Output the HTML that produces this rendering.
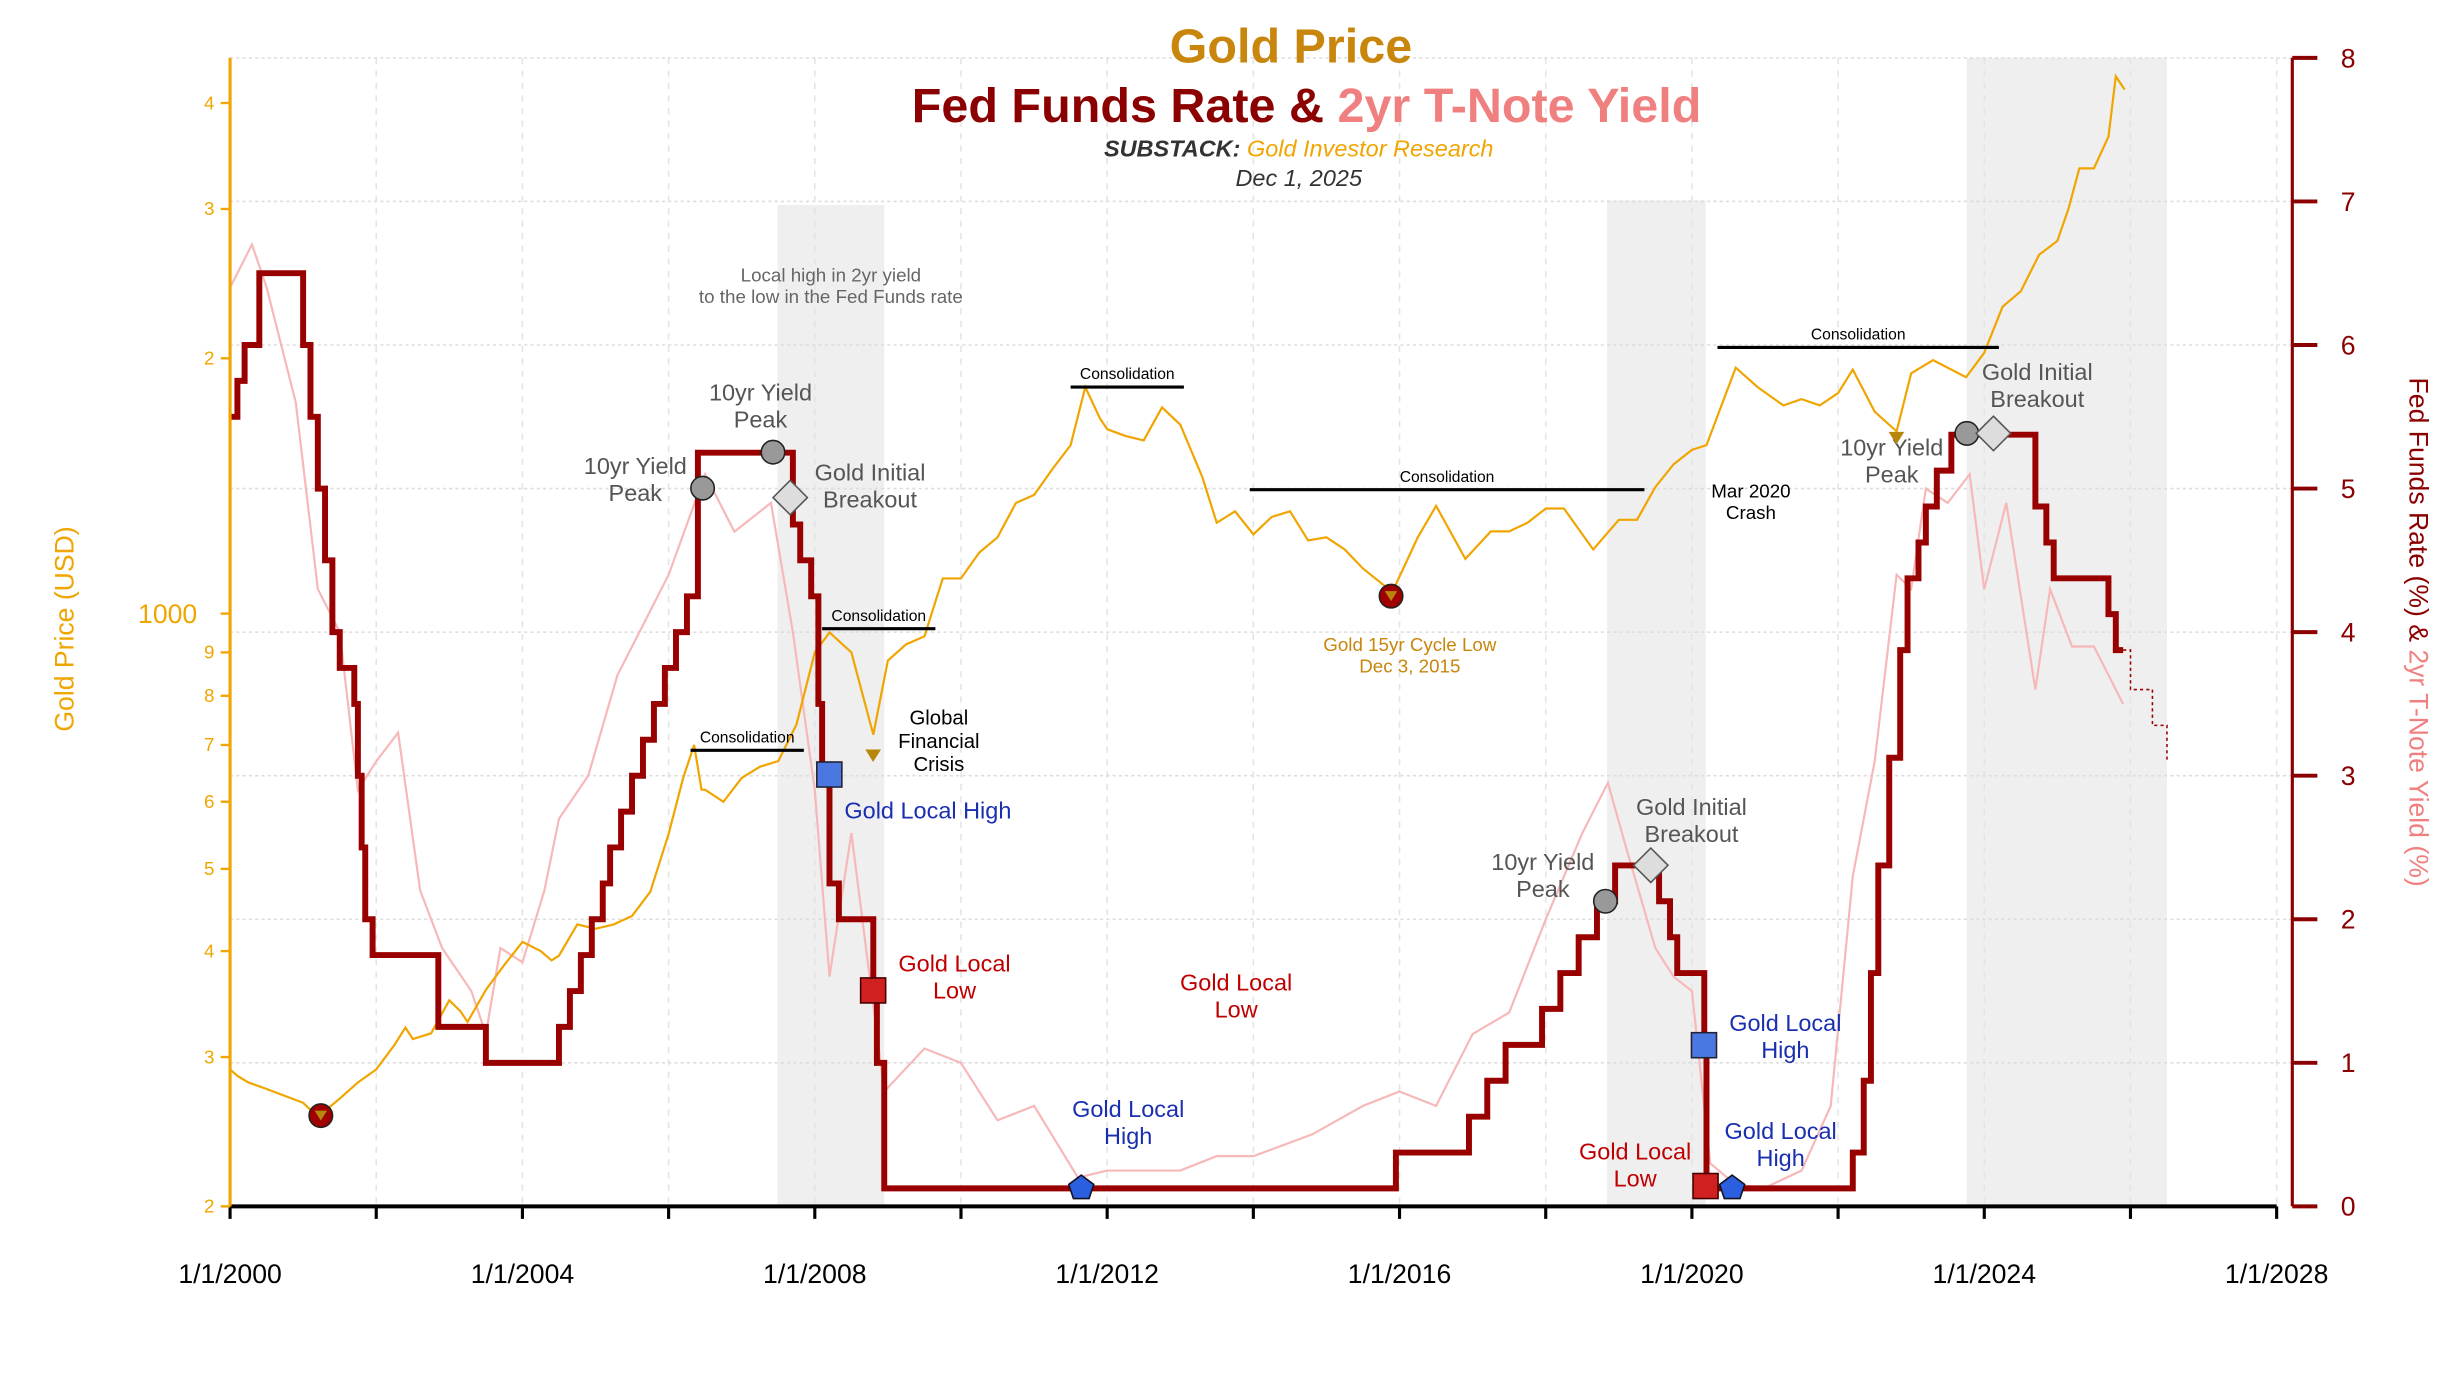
<!DOCTYPE html>
<html><head><meta charset="utf-8">
<style>
html,body{margin:0;padding:0;background:#fff;}
svg{display:block;font-family:"Liberation Sans",sans-serif;}
</style></head>
<body>
<svg id="chart" width="2441" height="1391" viewBox="0 0 1560 889" xmlns="http://www.w3.org/2000/svg">
<g id="bands"></g>
<g id="grid"></g>
<g id="series"></g>
<g id="axes"></g>
<g id="notes"></g>
<g>
<text x="825" y="40" text-anchor="middle" font-size="31" font-weight="bold" fill="#c8860d">Gold Price</text>
<text x="835" y="78" text-anchor="middle" font-size="31" font-weight="bold"><tspan fill="#8b0000">Fed Funds Rate &amp; </tspan><tspan fill="#f08080">2yr T-Note Yield</tspan></text>
<text x="830" y="100" text-anchor="middle" font-size="15" font-style="italic"><tspan fill="#333" font-weight="bold">SUBSTACK:</tspan><tspan fill="#f0a500"> Gold Investor Research</tspan></text>
<text x="830" y="119" text-anchor="middle" font-size="15" font-style="italic" fill="#333">Dec 1, 2025</text>
</g>
</svg>
<script>
// ---- data ----
const fedDates = [2000.0,2000.1,2000.2,2000.4,2001.0,2001.1,2001.2,2001.3,2001.4,2001.5,2001.7,2001.75,2001.8,2001.85,2001.95,2002.85,2003.5,2004.5,2004.65,2004.8,2004.95,2005.1,2005.2,2005.35,2005.5,2005.65,2005.8,2005.95,2006.1,2006.25,2006.4,2007.7,2007.8,2007.95,2008.05,2008.1,2008.2,2008.33,2008.8,2008.85,2008.95,2015.95,2016.95,2017.2,2017.45,2017.95,2018.2,2018.45,2018.7,2018.95,2019.55,2019.7,2019.8,2020.17,2020.2,2022.2,2022.35,2022.45,2022.55,2022.7,2022.85,2022.95,2023.1,2023.2,2023.35,2023.55,2024.7,2024.85,2024.95,2025.7,2025.8,2025.9];
const fedRates = [5.5,5.75,6.0,6.5,6.0,5.5,5.0,4.5,4.0,3.75,3.5,3.0,2.5,2.0,1.75,1.25,1.0,1.25,1.5,1.75,2.0,2.25,2.5,2.75,3.0,3.25,3.5,3.75,4.0,4.25,5.25,4.75,4.5,4.25,3.5,3.0,2.25,2.0,1.5,1.0,0.125,0.375,0.625,0.875,1.125,1.375,1.625,1.875,2.125,2.375,2.125,1.875,1.625,1.125,0.125,0.375,0.875,1.625,2.375,3.125,3.875,4.375,4.625,4.875,5.125,5.375,4.875,4.625,4.375,4.125,3.875,3.875];
const fedProjDates = [2025.9,2026.0,2026.3,2026.5];
const fedProjRates = [3.875,3.6,3.35,3.1];
const goldDates = [2000.0,2000.1,2000.25,2000.5,2000.75,2001.0,2001.2,2001.5,2001.75,2002.0,2002.25,2002.4,2002.5,2002.75,2003.0,2003.15,2003.25,2003.5,2003.75,2004.0,2004.25,2004.4,2004.5,2004.75,2005.0,2005.25,2005.5,2005.75,2006.0,2006.2,2006.35,2006.45,2006.5,2006.75,2007.0,2007.25,2007.5,2007.75,2008.0,2008.2,2008.5,2008.8,2009.0,2009.25,2009.5,2009.75,2010.0,2010.25,2010.5,2010.75,2011.0,2011.25,2011.5,2011.7,2011.9,2012.0,2012.25,2012.5,2012.75,2013.0,2013.3,2013.5,2013.75,2014.0,2014.25,2014.5,2014.75,2015.0,2015.25,2015.5,2015.9,2016.25,2016.5,2016.9,2017.25,2017.5,2017.75,2018.0,2018.25,2018.65,2019.0,2019.25,2019.5,2019.75,2020.0,2020.2,2020.6,2020.9,2021.25,2021.5,2021.75,2022.0,2022.2,2022.5,2022.8,2023.0,2023.3,2023.75,2024.0,2024.25,2024.5,2024.75,2025.0,2025.15,2025.3,2025.5,2025.7,2025.8,2025.92];
const goldPrices = [290,285,280,275,270,265,255,268,280,290,310,325,315,320,350,340,330,360,385,410,400,390,395,430,425,430,440,470,550,640,700,620,620,600,640,660,670,740,900,950,900,720,880,920,940,1100,1100,1180,1230,1350,1380,1480,1580,1850,1700,1650,1620,1600,1750,1670,1450,1280,1320,1240,1300,1320,1220,1230,1190,1130,1060,1230,1340,1160,1250,1250,1280,1330,1330,1190,1290,1290,1410,1500,1560,1580,1950,1850,1760,1790,1760,1820,1940,1730,1640,1920,1990,1900,2030,2300,2400,2650,2750,3000,3350,3350,3650,4300,4150];
const y2Dates = [2000.0,2000.3,2000.5,2000.9,2001.2,2001.5,2001.75,2002.0,2002.3,2002.6,2002.9,2003.3,2003.5,2003.7,2004.0,2004.3,2004.5,2004.9,2005.3,2005.7,2006.0,2006.5,2006.9,2007.4,2007.7,2008.0,2008.2,2008.5,2008.95,2009.5,2010.0,2010.5,2011.0,2011.6,2012.0,2013.0,2013.5,2014.0,2014.8,2015.5,2016.0,2016.5,2017.0,2017.5,2018.0,2018.5,2018.85,2019.1,2019.5,2019.75,2020.0,2020.25,2020.6,2021.0,2021.5,2021.9,2022.2,2022.5,2022.8,2023.0,2023.2,2023.5,2023.8,2024.0,2024.3,2024.7,2024.9,2025.2,2025.5,2025.9];
const y2Yields = [6.4,6.7,6.4,5.6,4.3,4.0,2.9,3.1,3.3,2.2,1.8,1.5,1.2,1.8,1.7,2.2,2.7,3.0,3.7,4.1,4.4,5.1,4.7,4.9,4.0,2.9,1.6,2.6,0.8,1.1,1.0,0.6,0.7,0.2,0.25,0.25,0.35,0.35,0.5,0.7,0.8,0.7,1.2,1.35,2.0,2.6,2.95,2.5,1.8,1.6,1.5,0.3,0.15,0.13,0.25,0.7,2.3,3.1,4.4,4.3,5.0,4.9,5.1,4.3,4.9,3.6,4.3,3.9,3.9,3.5];

// ---- axis functions ----
const X = y => 147 + (y-2000)*46.714;
const YG = v => 771 - (Math.log10(v)-2.30103)*542;
const YR = r => 771 - r*91.75;
const NS = "http://www.w3.org/2000/svg";
function mk(parent, tag, attrs, text){
  const e = document.createElementNS(NS, tag);
  for (const k in attrs) e.setAttribute(k, attrs[k]);
  if (text !== undefined) e.textContent = text;
  document.getElementById(parent).appendChild(e);
  return e;
}

// bands
const bandStarts = [2007.49, 2018.84, 2023.76];
const bandEnds = [2008.95, 2020.19, 2026.5];
const bandTops = [131, 128, 37];
for (let i=0;i<bandStarts.length;i++){
  const r = mk('bands','rect',{x:X(bandStarts[i]),y:bandTops[i],width:X(bandEnds[i])-X(bandStarts[i]),height:771-bandTops[i],fill:'#efefef'});
  
  
}
// grid
for (let y=2000;y<=2028;y+=2){
  const l = mk('grid','line',{x1:X(y),x2:X(y),y1:37,y2:771,stroke:'#e4e4e4','stroke-dasharray':'4,4','stroke-width':1});
  
  
}
for (let r=1;r<=8;r++){
  const l = mk('grid','line',{x1:147,x2:1465,y1:YR(r),y2:YR(r),stroke:'#ddd','stroke-dasharray':'2,2','stroke-width':1});
  
  
}
// series
let d = y2Dates.map((t,i)=>(i?'L':'M')+X(t).toFixed(1)+','+YR(y2Yields[i]).toFixed(1)).join('');
let p = mk('series','path',{d:d,fill:'none',stroke:'#f6b8b8','stroke-width':1.4});



d = goldDates.map((t,i)=>(i?'L':'M')+X(t).toFixed(1)+','+YG(goldPrices[i]).toFixed(1)).join('');
p = mk('series','path',{d:d,fill:'none',stroke:'#f0a500','stroke-width':1.4});



d = 'M'+X(fedDates[0])+','+YR(fedRates[0]);
for (let i=1;i<fedDates.length;i++){ d += 'H'+X(fedDates[i]).toFixed(1)+'V'+YR(fedRates[i]).toFixed(1); }
p = mk('series','path',{d:d,fill:'none',stroke:'#990000','stroke-width':3.8,'stroke-linejoin':'miter'});


d = 'M'+X(fedProjDates[0])+','+YR(fedProjRates[0]);
for (let i=1;i<fedProjDates.length;i++){ d += 'H'+X(fedProjDates[i]).toFixed(1)+'V'+YR(fedProjRates[i]).toFixed(1); }
p = mk('series','path',{d:d,fill:'none',stroke:'#990000','stroke-width':1,'stroke-dasharray':'2,2'});



// axes
let a = mk('axes','line',{x1:147,x2:1455,y1:771,y2:771,stroke:'#000','stroke-width':2.5});


for (let y=2000;y<=2028;y+=2){
  const t = mk('axes','line',{x1:X(y),x2:X(y),y1:771,y2:779,stroke:'#000','stroke-width':2});
  
  
  if ((y-2000)%4===0){
    const lb = mk('axes','text',{x:X(y),y:820,'text-anchor':'middle','font-size':17,fill:'#000'},'1/1/'+y);
    
    
  }
}
a = mk('axes','line',{x1:147,x2:147,y1:37,y2:771,stroke:'#f0a500','stroke-width':2});


const goldTicks = [200,300,400,500,600,700,800,900,1000,2000,3000,4000];
const goldTickLabels = ['2','3','4','5','6','7','8','9','1000','2','3','4'];
goldTicks.forEach((v,i)=>{
  const t = mk('axes','line',{x1:141,x2:147,y1:YG(v),y2:YG(v),stroke:'#f0a500','stroke-width':1.5});
  
  
  const big = v===1000;
  const lb = mk('axes','text',{x:big?126:137,y:YG(v)+(big?6:4),'text-anchor':'end','font-size':big?17:12,fill:'#f0a500'},goldTickLabels[i]);
  
  
});
a = mk('axes','text',{x:47,y:402,'text-anchor':'middle','font-size':17,fill:'#f0a500',transform:'rotate(-90 47 402)'},'Gold Price (USD)');


a = mk('axes','line',{x1:1465,x2:1465,y1:37,y2:771,stroke:'#8b0000','stroke-width':2});


const rateTicks = [0,1,2,3,4,5,6,7,8];
rateTicks.forEach(r=>{
  const t = mk('axes','line',{x1:1465,x2:1481,y1:YR(r),y2:YR(r),stroke:'#8b0000','stroke-width':2.5});
  
  
  const lb = mk('axes','text',{x:1496,y:YR(r)+6,'text-anchor':'start','font-size':17,fill:'#8b0000'},String(r));
  
  
});
a = mk('axes','text',{x:1540,y:404,'text-anchor':'middle','font-size':17,transform:'rotate(90 1540 404)'});


a.innerHTML = '<tspan fill="#8b0000">Fed Funds Rate (%) &amp; </tspan><tspan fill="#f08080">2yr T-Note Yield (%)</tspan>';

// consolidation lines
const consStart = [2006.3, 2008.1, 2011.5, 2013.95, 2020.35];
const consEnd = [2007.85, 2009.65, 2013.05, 2019.35, 2024.2];
const consPrice = [690, 960, 1850, 1400, 2060];
for (let i=0;i<consStart.length;i++){
  const l = mk('notes','line',{x1:X(consStart[i]),x2:X(consEnd[i]),y1:YG(consPrice[i]),y2:YG(consPrice[i]),stroke:'#000','stroke-width':2});
  
  
  const t = mk('notes','text',{x:(X(consStart[i])+X(consEnd[i]))/2,y:YG(consPrice[i])-5,'text-anchor':'middle','font-size':10,fill:'#000'},'Consolidation');
  
  
}
function txt(x,y,lines,size,fill,name){
  lines.forEach((s,i)=>{
    const t = mk('notes','text',{x:x,y:y+i*size*1.15,'text-anchor':'middle','font-size':size,fill:fill},s);
    
    
  });
}
txt(531,180,['Local high in 2yr yield','to the low in the Fed Funds rate'],12,'#666','yield-note');
txt(486,256,['10yr Yield','Peak'],15,'#555','yield-peak-label');
txt(406,303,['10yr Yield','Peak'],15,'#555','yield-peak-label');
txt(556,307,['Gold Initial','Breakout'],15,'#555','breakout-label');
txt(600,463,['Global','Financial','Crisis'],13,'#000','gfc-label');
txt(593,523,['Gold Local High'],15,'#1a2fb0','gold-local-high-label');
txt(610,621,['Gold Local','Low'],15,'#c00000','gold-local-low-label');
txt(790,633,['Gold Local','Low'],15,'#c00000','gold-local-low-label');
txt(721,714,['Gold Local','High'],15,'#1a2fb0','gold-local-high-label');
txt(901,416,['Gold 15yr Cycle Low','Dec 3, 2015'],12,'#c8860d','cycle-low-label');
txt(1119,318,['Mar 2020','Crash'],12,'#000','covid-crash-label');
txt(986,556,['10yr Yield','Peak'],15,'#555','yield-peak-label');
txt(1081,521,['Gold Initial','Breakout'],15,'#555','breakout-label');
txt(1141,659,['Gold Local','High'],15,'#1a2fb0','gold-local-high-label');
txt(1138,728,['Gold Local','High'],15,'#1a2fb0','gold-local-high-label');
txt(1045,741,['Gold Local','Low'],15,'#c00000','gold-local-low-label');
txt(1209,291,['10yr Yield','Peak'],15,'#555','yield-peak-label');
txt(1302,243,['Gold Initial','Breakout'],15,'#555','breakout-label');

// markers
function circ(x,y,fill,name){const c=mk('notes','circle',{cx:x,cy:y,r:7.5,fill:fill,stroke:'#222','stroke-width':1});return c;}
function tri(x,y,fill,s){const t=mk('notes','polygon',{points:`${x-s},${y-s*0.8} ${x+s},${y-s*0.8} ${x},${y+s*0.8}`,fill:fill});}
circ(205,713,'#a00000','cycle-low-marker'); tri(205,713,'#b8860b',4);
circ(889,381,'#a00000','cycle-low-marker'); tri(889,381,'#b8860b',4);
[[449,312],[494,289],[1026,576],[1257,277]].forEach(p=>circ(p[0],p[1],'#999','yield-peak-marker'));
[[505,318],[1055,553],[1274,277]].forEach(p=>{const q=mk('notes','polygon',{points:`${p[0]},${p[1]-11} ${p[0]+11},${p[1]} ${p[0]},${p[1]+11} ${p[0]-11},${p[1]}`,fill:'#ddd',stroke:'#555','stroke-width':1});});
[[530,495],[1089,668]].forEach(p=>{const q=mk('notes','rect',{x:p[0]-8,y:p[1]-8,width:16,height:16,fill:'#4a78e0',stroke:'#223','stroke-width':1});});
[[558,633],[1090,758]].forEach(p=>{const q=mk('notes','rect',{x:p[0]-8,y:p[1]-8,width:16,height:16,fill:'#d02020',stroke:'#400','stroke-width':1});});
[[691,759],[1107,759]].forEach(p=>{const x=p[0],y=p[1];const q=mk('notes','polygon',{points:`${x},${y-8} ${x+8},${y-2} ${x+5},${y+7} ${x-5},${y+7} ${x-8},${y-2}`,fill:'#2a5fe0',stroke:'#112','stroke-width':1});});
tri(558,483,'#b8860b',5); tri(1212,280,'#b8860b',5);
</script>
</body></html>
